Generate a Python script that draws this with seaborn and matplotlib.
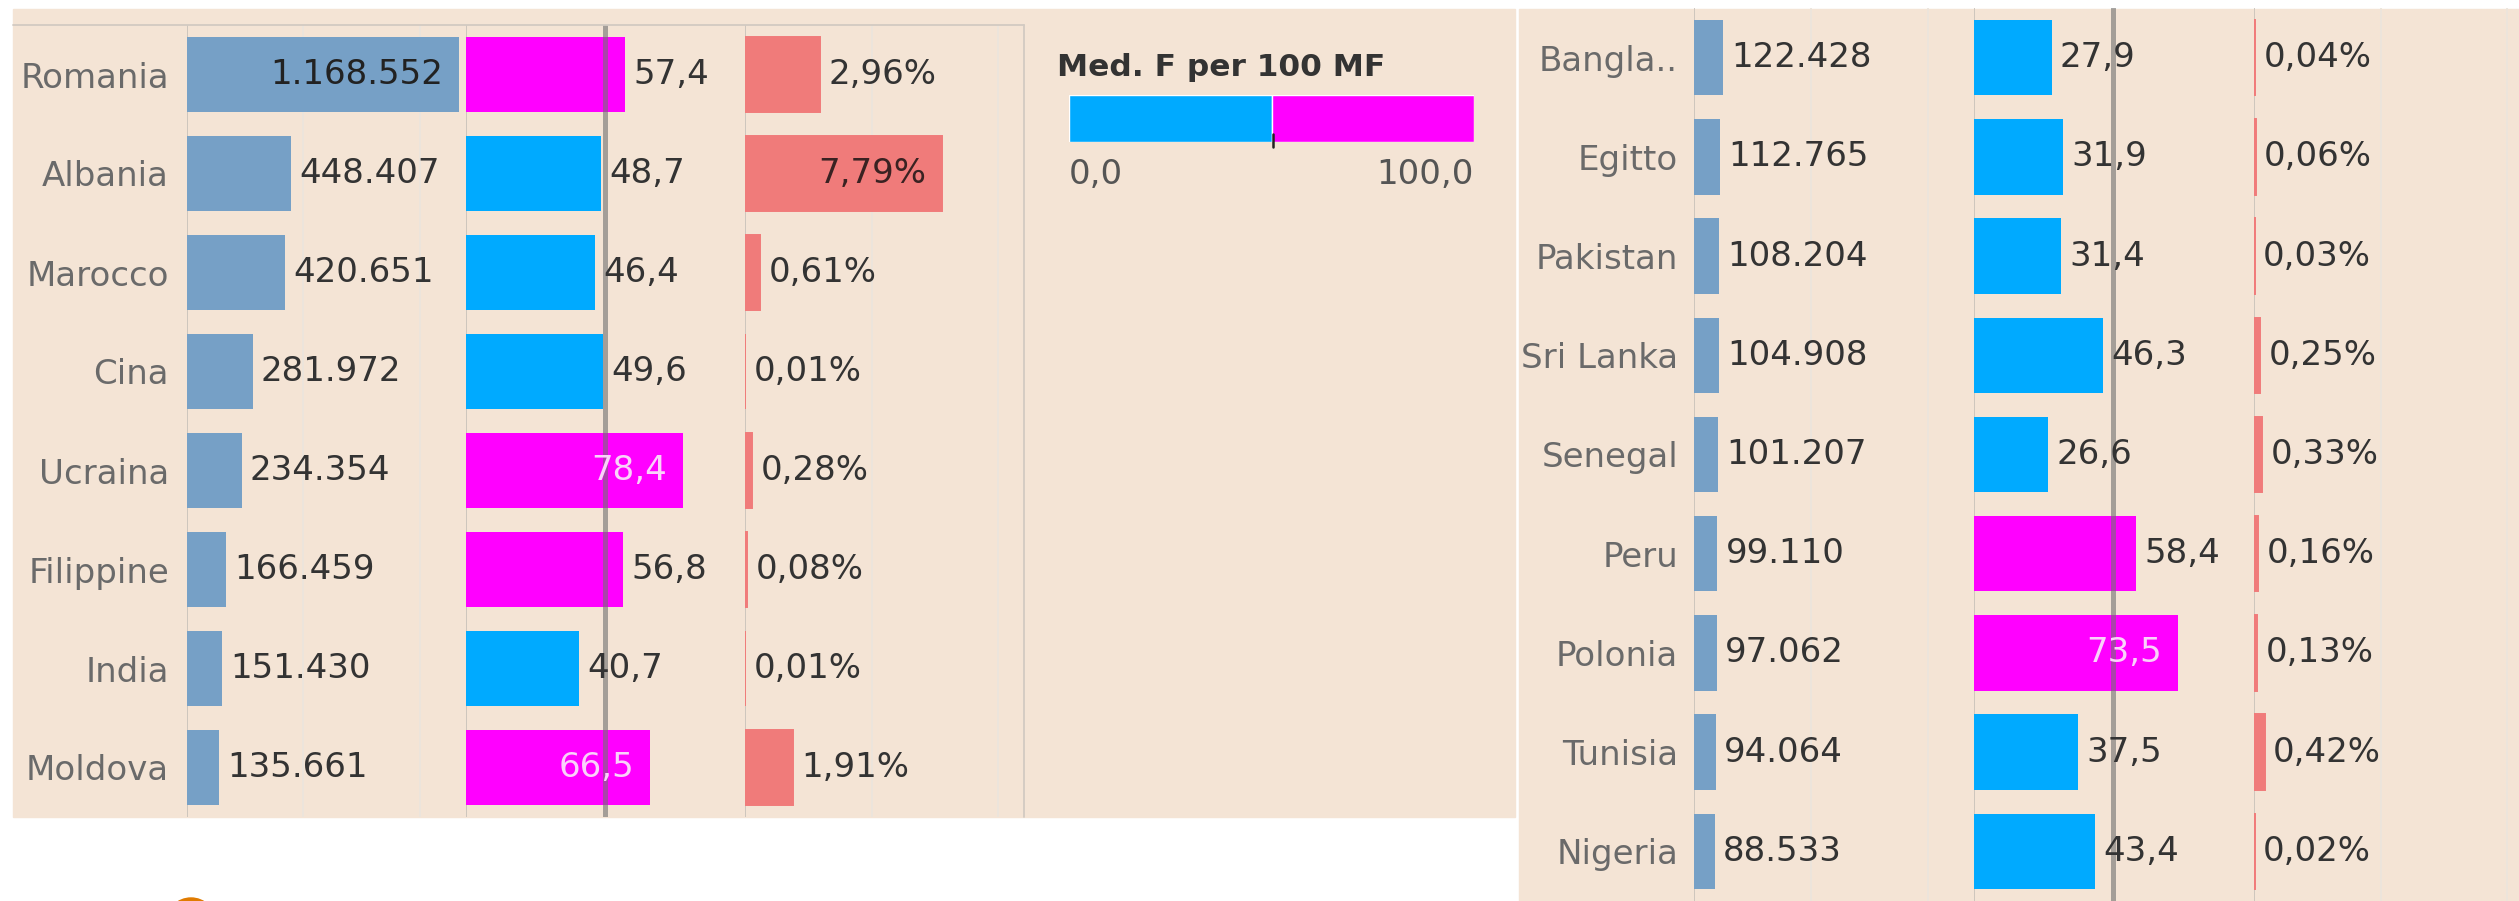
"""
Stranieri residenti per paese: popolazione, quota femminile, incidenza.
Two Tableau-style panels with three bar columns each, drawn with seaborn.
"""

import matplotlib.pyplot as plt
import numpy as np
import pandas as pd
import seaborn as sns
from matplotlib.lines import Line2D
from matplotlib.patches import Ellipse, Rectangle

# ==========================================
# DATA
# ==========================================
paesi_sx = ["Romania", "Albania", "Marocco", "Cina", "Ucraina", "Filippine", "India", "Moldova"]
pop_sx = [1168552, 448407, 420651, 281972, 234354, 166459, 151430, 135661]
med_sx = [57.4, 48.7, 46.4, 49.6, 78.4, 56.8, 40.7, 66.5]
pct_sx = [2.96, 7.79, 0.61, 0.01, 0.28, 0.08, 0.01, 1.91]

paesi_dx = ["Bangla..", "Egitto", "Pakistan", "Sri Lanka", "Senegal", "Peru", "Polonia", "Tunisia", "Nigeria"]
pop_dx = [122428, 112765, 108204, 104908, 101207, 99110, 97062, 94064, 88533]
med_dx = [27.9, 31.9, 31.4, 46.3, 26.6, 58.4, 73.5, 37.5, 43.4]
pct_dx = [0.04, 0.06, 0.03, 0.25, 0.33, 0.16, 0.13, 0.42, 0.02]

legend_title = "Med. F per 100 MF"
legend_stops = [0.0, 50.0, 100.0]
legend_labels = ["0,0", "100,0"]

# ==========================================
# STYLE
# ==========================================
W, H, DPI = 2519, 901, 100
BG = "#F4E4D5"
C_POP = "#76A0C6"
C_M = "#00AAFF"
C_F = "#FF00FF"
C_PCT = "#F07B7A"
TXT = "#333333"
LBL = "#6A6A6A"
AXLINE = "#CBC3BB"
GRID = "#ECE4DC"
FS = 24.5

sns.set_theme(style="white")
plt.rcParams["font.family"] = ["DejaVu Sans"]


def px_axes(fig, x0, y0, x1, y1):
    return fig.add_axes([x0 / W, 1 - y1 / H, (x1 - x0) / W, (y1 - y0) / H])


def fmt_pop(v):
    return f"{v:,}".replace(",", ".")


def fmt_med(v):
    return f"{v:.1f}".replace(".", ",")


def fmt_pct(v):
    return f"{v:.2f}%".replace(".", ",")


def draw_column(ax, df, col, xmax, fmt, grid, inside_color, hue=None, color=None,
                refline=None, min_edge=False):
    n = len(df)
    if hue is None:
        # tiny values still show as a hairline, like Tableau does
        edge = dict(edgecolor=color, linewidth=1.4) if min_edge else dict(linewidth=0)
        sns.barplot(data=df, y="Paese", x=col, orient="h", color=color,
                    width=0.76, saturation=1, ax=ax, **edge)
    else:
        sns.barplot(data=df, y="Paese", x=col, orient="h", hue=hue,
                    palette={"F": C_F, "M": C_M}, dodge=False, width=0.76,
                    saturation=1, legend=False, linewidth=0, ax=ax)
    ax.set_xlim(0, xmax)
    ax.set_ylim(n - 0.5, -0.5)
    ax.set_facecolor("none")
    for s in ax.spines.values():
        s.set_visible(False)
    ax.set_xlabel("")
    ax.set_ylabel("")
    ax.set_xticks([])
    ax.set_yticks([])
    for g in grid:
        ax.axvline(g, color=GRID, lw=1.3, zorder=0)
    ax.axvline(0, color=AXLINE, lw=1.3, zorder=0)
    for i, v in enumerate(df[col]):
        if v / xmax > 0.6:
            ax.annotate(fmt(v), (v, i), xytext=(-11.5, 0), textcoords="offset points",
                        ha="right", va="center", fontsize=FS, color=inside_color, zorder=6)
        else:
            ax.annotate(fmt(v), (v, i), xytext=(6, 0), textcoords="offset points",
                        ha="left", va="center", fontsize=FS, color=TXT, zorder=6)
    if refline is not None:
        ax.axvline(refline, color="#707070", alpha=0.6, lw=3.6, zorder=5)


def draw_panel(fig, paesi, pop, med, pct, y0, y1, cols, pad):
    df = pd.DataFrame({"Paese": paesi, "Pop": pop, "Med": med, "Pct": pct})
    df["Genere"] = np.where(df["Med"] > 50, "F", "M")

    ax1 = px_axes(fig, cols[0][0], y0, cols[0][1], y1)
    draw_column(ax1, df, "Pop", 1_190_000, fmt_pop, [500_000, 1_000_000], "#222222", color=C_POP)
    ax1.set_yticks(range(len(df)))
    ax1.set_yticklabels(df["Paese"])
    ax1.tick_params(axis="y", length=0, pad=pad, labelsize=FS, labelcolor=LBL)

    ax2 = px_axes(fig, cols[1][0], y0, cols[1][1], y1)
    draw_column(ax2, df, "Med", 100, fmt_med, [], "#FAD2FA", hue="Genere", refline=50)

    ax3 = px_axes(fig, cols[2][0], y0, cols[2][1], y1)
    draw_column(ax3, df, "Pct", 10.9, fmt_pct, [5, 10], "#3A2222", color=C_PCT, min_edge=True)


def main():
    fig = plt.figure(figsize=(W / DPI, H / DPI), dpi=DPI, facecolor="white")

    # panel backgrounds
    fig.add_artist(Rectangle((13 / W, 1 - 817 / H), (1515 - 13) / W, (817 - 9) / H,
                             transform=fig.transFigure, color=BG, zorder=0))
    fig.add_artist(Rectangle((1519 / W, 0), (W - 1519) / W, (H - 9) / H,
                             transform=fig.transFigure, color=BG, zorder=0))
    fig.add_artist(Line2D([13 / W, 1024 / W], [1 - 25 / H] * 2, transform=fig.transFigure,
                          color="#D2CAC2", lw=1.3))
    fig.add_artist(Line2D([1024 / W] * 2, [1 - 25 / H, 1 - 817 / H], transform=fig.transFigure,
                          color="#D2CAC2", lw=1.3))

    # left and right tables
    draw_panel(fig, paesi_sx, pop_sx, med_sx, pct_sx, 25, 817,
               [(187, 464), (466, 743), (745, 1021)], pad=13)
    draw_panel(fig, paesi_dx, pop_dx, med_dx, pct_dx, 8, 901,
               [(1694, 1972), (1974, 2252), (2254, 2530)], pad=11.5)

    # colour legend
    fig.text(1057 / W, 1 - 67 / H, legend_title, fontsize=22.5, fontweight="bold",
             color="#333333", va="center", ha="left")
    axl = px_axes(fig, 1069, 95, 1474, 142)
    axl.barh([0], [legend_stops[1] - legend_stops[0]], left=legend_stops[0], height=1, color=C_M)
    axl.barh([0], [legend_stops[2] - legend_stops[1]], left=legend_stops[1], height=1, color=C_F)
    axl.set_xlim(legend_stops[0], legend_stops[2])
    axl.set_ylim(-0.5, 0.5)
    axl.axis("off")
    fig.add_artist(Line2D([1273 / W] * 2, [1 - 134 / H, 1 - 147 / H], transform=fig.transFigure,
                          color="#222222", lw=1.8))
    fig.text(1069 / W, 1 - 175 / H, legend_labels[0], fontsize=FS, color="#555555",
             ha="left", va="center")
    fig.text(1474 / W, 1 - 175 / H, legend_labels[1], fontsize=FS, color="#555555",
             ha="right", va="center")

    # orange marker peeking at the bottom
    fig.add_artist(Ellipse((191 / W, -22 / H), 50 / W, 50 / H, transform=fig.transFigure,
                           color="#E07B00"))

    fig.savefig("out.png", dpi=DPI, facecolor="white")
    plt.close(fig)


if __name__ == "__main__":
    main()
